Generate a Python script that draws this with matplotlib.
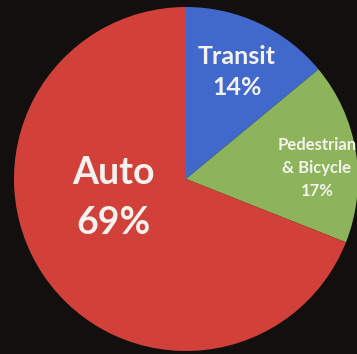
import matplotlib.pyplot as plt

# Mode share data
modes = ["Transit", "Pedestrian\n& Bicycle", "Auto"]
shares = [14, 17, 69]
colors = ["#4169CC", "#8DB45A", "#D1413A"]

# label layout (pixel coords, y measured from top)
label_pos = [(237, 72), (317, 168), (113, 198)]
label_size = [18, 12, 27]
label_spacing = [1.45, 1.5, 1.55]

W, H = 357, 354
fig = plt.figure(figsize=(W / 100, H / 100), dpi=100, facecolor="#120f0e")
ax = fig.add_axes([0, 0, 1, 1])
ax.set_facecolor("#120f0e")

ax.pie(shares, colors=colors, startangle=90, counterclock=False,
       center=(186, H - 179), radius=172, frame=True,
       wedgeprops=dict(linewidth=0))

for mode, share, (x, y), fs, ls in zip(modes, shares, label_pos, label_size, label_spacing):
    ax.text(x, H - y, f"{mode}\n{share}%", ha="center", va="center",
            color="#f4f2ee", fontsize=fs, fontweight="bold",
            family=["Lato", "DejaVu Sans"], linespacing=ls)

ax.set_xlim(0, W)
ax.set_ylim(0, H)
ax.set_axis_off()

fig.savefig("out.png", dpi=100, facecolor=fig.get_facecolor())
